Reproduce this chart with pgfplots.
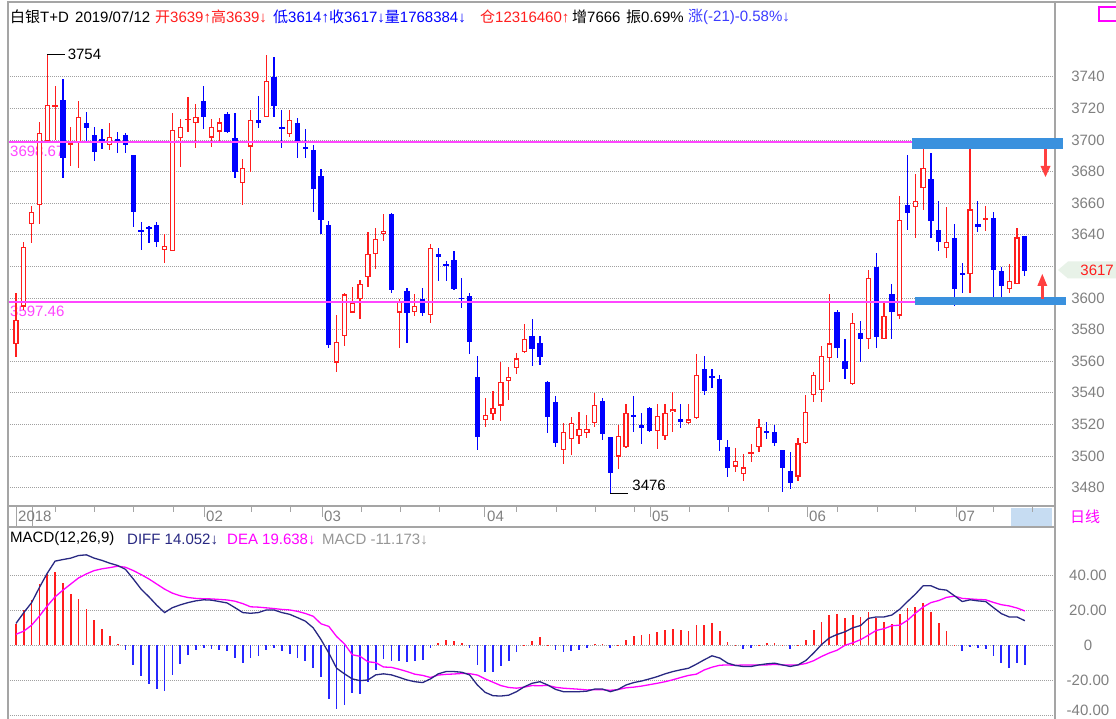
\documentclass[border=0pt]{standalone}
\usepackage{pgfplots}
\pgfplotsset{compat=1.18}
\usepackage{pgfplotstable}
\usepackage{fontspec}
\setmainfont{Liberation Sans}
\newfontfamily\cjk{Noto Sans CJK SC}
\definecolor{cred}{RGB}{255,30,30}
\definecolor{cblue}{RGB}{0,0,255}
\definecolor{navy}{RGB}{40,40,130}
\definecolor{mag}{RGB}{255,0,255}
\definecolor{magl}{RGB}{255,70,255}
\definecolor{gridc}{RGB}{160,160,160}
\definecolor{lab}{RGB}{128,128,128}
\definecolor{framec}{RGB}{165,165,165}
\definecolor{barblue}{RGB}{58,145,222}
\definecolor{tagc}{RGB}{232,242,232}
\definecolor{hblue}{RGB}{60,60,255}
\definecolor{mgray}{RGB}{150,150,150}
\definecolor{stripblue}{RGB}{198,220,242}
\newcommand\fs{\fontsize{15}{18}\selectfont}

\pgfplotstableread{
i o h l c
0 3570.9 3603.4 3562.5 3586.0
1 3594.5 3635.6 3592.4 3632.1
2 3646.8 3658.4 3634.6 3654.6
3 3658.9 3711.2 3646.6 3704.6
4 3699.4 3754.0 3699.0 3722.3
5 3720.9 3734.2 3700.0 3722.3
7 3697.2 3708.4 3683.5 3698.0
8 3698.3 3724.7 3682.1 3714.4
12 3696.8 3710.6 3693.7 3702.1
19 3630.4 3640.3 3622.0 3633.1
20 3629.9 3716.9 3629.5 3706.3
21 3701.1 3713.1 3682.7 3708.4
22 3712.7 3727.4 3705.3 3713.3
23 3710.9 3722.8 3694.7 3714.7
25 3701.5 3713.1 3695.8 3708.4
26 3705.3 3714.1 3699.0 3711.2
29 3672.6 3687.8 3658.9 3682.1
30 3695.8 3719.0 3679.6 3712.7
32 3714.7 3753.8 3714.5 3737.5
35 3703.6 3719.0 3701.7 3712.7
41 3559.1 3589.2 3553.4 3572.0
42 3575.9 3603.0 3569.6 3602.3
43 3590.7 3607.2 3590.5 3597.0
44 3599.2 3611.4 3586.5 3609.1
45 3613.1 3642.0 3606.8 3627.8
46 3627.8 3644.5 3618.2 3637.3
47 3640.5 3653.2 3636.3 3642.6
49 3590.7 3599.2 3568.2 3598.3
51 3591.3 3602.3 3588.6 3594.9
53 3589.2 3634.0 3584.0 3631.5
60 3522.8 3536.9 3518.6 3525.9
61 3526.6 3541.1 3522.8 3530.2
62 3531.9 3559.7 3522.3 3547.1
63 3547.5 3556.5 3535.4 3550.2
64 3555.5 3565.4 3551.9 3561.8
65 3565.6 3583.5 3565.0 3573.9
70 3503.8 3521.1 3494.7 3515.0
71 3510.6 3524.9 3500.6 3521.1
72 3512.7 3528.1 3507.6 3517.1
73 3514.4 3525.9 3511.2 3517.3
74 3520.7 3540.1 3518.6 3532.1
77 3499.6 3519.6 3491.6 3512.9
78 3505.5 3532.9 3505.0 3527.4
82 3515.8 3532.9 3504.2 3525.3
83 3512.4 3532.9 3510.1 3527.4
84 3527.8 3540.5 3515.4 3529.5
86 3520.7 3532.9 3520.3 3523.2
87 3523.9 3564.4 3523.2 3551.1
92 3493.3 3505.3 3489.6 3497.1
93 3488.6 3501.1 3484.4 3492.8
94 3501.1 3507.4 3496.4 3502.5
95 3505.5 3523.4 3502.7 3518.2
100 3487.0 3511.2 3484.4 3508.0
101 3508.0 3538.6 3507.8 3528.1
102 3538.6 3553.4 3534.4 3551.3
103 3541.8 3569.6 3534.4 3563.3
104 3561.8 3602.5 3547.0 3571.3
107 3545.4 3590.3 3545.0 3584.0
109 3573.9 3617.7 3567.5 3612.5
111 3574.0 3597.7 3573.8 3588.8
113 3588.8 3664.6 3586.7 3649.4
115 3657.4 3678.3 3637.8 3661.4
116 3669.4 3694.1 3655.7 3682.1
119 3631.8 3657.4 3625.5 3635.6
122 3615.2 3694.1 3603.0 3656.1
124 3649.7 3658.2 3642.6 3650.2
127 3605.7 3621.5 3603.0 3611.0
128 3608.9 3644.5 3608.9 3638.4
}\up

\pgfplotstableread{
i o h l c
6 3725.3 3738.4 3676.1 3688.8
9 3710.6 3717.5 3698.3 3707.4
10 3703.2 3708.4 3686.7 3692.6
11 3700.6 3706.8 3694.1 3699.4
13 3700.3 3705.3 3692.0 3699.6
14 3703.2 3704.2 3692.0 3696.8
15 3690.3 3690.5 3645.1 3654.6
16 3643.0 3648.3 3630.4 3642.2
17 3644.9 3645.5 3634.6 3643.5
18 3646.2 3648.3 3632.5 3635.6
24 3724.7 3734.2 3706.8 3714.7
27 3716.5 3717.5 3704.2 3705.3
28 3701.1 3716.9 3676.1 3679.6
31 3712.7 3728.0 3707.4 3710.6
33 3739.7 3752.3 3714.7 3721.5
34 3708.4 3719.0 3694.7 3707.4
36 3710.6 3713.7 3688.4 3697.9
37 3695.8 3706.8 3688.4 3694.7
38 3693.7 3696.8 3654.6 3668.8
39 3677.4 3681.5 3640.5 3649.4
40 3646.2 3648.9 3568.2 3570.3
48 3653.2 3653.5 3603.4 3605.1
50 3604.4 3606.5 3571.3 3590.7
52 3599.2 3606.5 3588.6 3590.7
54 3627.8 3631.5 3611.0 3625.8
55 3621.3 3623.4 3611.0 3620.3
56 3624.0 3629.7 3605.1 3605.5
57 3600.2 3612.5 3593.5 3599.2
58 3601.3 3603.0 3564.6 3572.3
59 3550.2 3563.3 3503.8 3511.8
66 3576.1 3586.5 3557.0 3567.7
67 3571.3 3576.0 3557.6 3562.5
68 3547.1 3547.5 3514.4 3524.5
69 3534.4 3538.0 3505.5 3508.0
75 3534.8 3536.9 3510.1 3513.7
76 3511.8 3512.0 3476.0 3489.0
79 3525.8 3538.0 3515.4 3525.3
80 3519.4 3527.4 3507.6 3517.5
81 3530.2 3530.8 3515.4 3516.0
85 3523.4 3532.9 3517.5 3521.7
88 3555.1 3563.3 3538.6 3541.3
89 3550.5 3555.1 3543.2 3549.9
90 3548.5 3551.3 3503.4 3510.1
91 3505.9 3510.1 3486.9 3492.6
96 3515.8 3521.3 3510.6 3514.4
97 3515.4 3519.6 3506.3 3508.0
98 3503.8 3504.0 3476.9 3492.6
99 3490.5 3502.7 3478.9 3483.1
105 3590.9 3592.4 3561.8 3568.2
106 3560.1 3574.0 3548.5 3554.9
108 3577.7 3585.4 3559.7 3573.9
110 3619.8 3628.3 3568.2 3575.5
112 3602.5 3608.7 3573.9 3591.3
114 3658.9 3690.5 3643.0 3653.6
117 3675.3 3691.6 3637.8 3648.7
118 3643.0 3661.4 3629.7 3635.6
120 3637.8 3646.8 3594.9 3605.5
121 3615.5 3622.0 3603.4 3615.0
123 3646.8 3661.4 3642.0 3644.7
125 3650.4 3654.6 3600.8 3617.7
126 3617.1 3619.8 3600.8 3607.8
129 3639.0 3639.0 3614.0 3617.0
}\down

\pgfplotstableread{
i diff dea m
0 12.5 6.3 12.3
1 18.7 8.1 20.0
2 24.4 11.5 25.8
3 33.1 16.7 35.0
4 41.2 22.5 40.8
5 48.1 27.7 41.7
6 49.0 31.5 35.4
7 49.8 35.0 29.6
8 51.3 38.5 26.7
9 51.7 40.8 21.0
10 49.8 42.7 14.4
11 48.5 43.7 9.4
12 46.9 44.4 5.2
13 45.6 45.2 0.8
14 43.4 44.6 -2.5
15 37.9 42.7 -11.2
16 32.1 40.4 -17.5
17 27.7 37.9 -21.9
18 22.9 35.0 -25.2
19 18.7 32.1 -26.2
20 21.5 29.8 -16.9
21 23.1 28.3 -10.8
22 24.4 27.3 -5.8
23 25.4 26.8 -2.9
24 26.0 26.6 -1.5
25 25.8 26.5 -1.9
26 25.0 26.2 -2.5
27 24.2 25.9 -3.5
28 21.5 25.2 -7.3
29 18.7 23.8 -10.2
30 18.3 22.0 -7.3
31 18.7 21.8 -6.3
32 20.2 21.4 -2.5
33 20.2 21.0 -1.5
34 18.7 20.5 -3.5
35 17.7 20.2 -5.0
36 15.8 19.4 -7.3
37 13.8 18.2 -8.8
38 10.0 16.6 -13.1
39 3.3 12.3 -17.9
40 -4.4 10.8 -30.4
41 -13.1 5.0 -36.2
42 -16.3 0.8 -34.2
43 -19.2 -5.4 -27.5
44 -20.2 -6.3 -27.9
45 -19.8 -9.4 -20.8
46 -16.9 -9.9 -14.0
47 -16.3 -12.4 -7.7
48 -16.9 -12.6 -8.7
49 -18.3 -13.7 -9.2
50 -19.8 -15.0 -9.6
51 -20.8 -16.5 -8.7
52 -21.3 -17.2 -8.3
53 -19.2 -18.4 -1.5
54 -16.3 -17.0 1.3
55 -15.0 -16.6 3.3
56 -15.0 -16.4 2.7
57 -15.4 -16.1 1.3
58 -16.9 -16.2 -1.5
59 -22.7 -17.0 -11.5
60 -26.9 -19.2 -15.4
61 -28.8 -21.1 -15.4
62 -29.0 -23.0 -12.1
63 -28.5 -24.1 -8.8
64 -26.5 -24.5 -4.0
65 -23.7 -23.9 0.4
66 -21.7 -23.0 2.7
67 -20.8 -23.1 4.6
68 -22.7 -22.9 0.4
69 -25.2 -24.0 -2.5
70 -26.5 -24.5 -4.0
71 -26.5 -24.8 -3.5
72 -26.5 -25.1 -2.9
73 -26.2 -25.5 -1.5
74 -25.0 -25.4 0.8
75 -25.0 -25.4 0.8
76 -26.5 -25.7 -1.5
77 -25.2 -25.3 0.2
78 -22.7 -24.3 3.1
79 -21.3 -23.9 5.2
80 -20.4 -23.3 5.8
81 -19.2 -22.5 6.5
82 -17.9 -21.7 7.7
83 -16.3 -20.8 9.0
84 -15.0 -19.7 9.4
85 -14.0 -18.4 8.7
86 -13.1 -17.2 8.1
87 -10.8 -16.5 11.5
88 -8.3 -14.1 11.5
89 -6.0 -12.5 12.9
90 -7.3 -11.4 8.1
91 -10.2 -11.2 1.9
92 -11.5 -11.5 0.1
93 -12.1 -11.2 -1.9
94 -12.1 -11.3 -1.5
95 -11.2 -11.2 0.1
96 -10.6 -11.2 1.3
97 -10.2 -10.9 1.3
98 -11.2 -11.2 0.1
99 -12.1 -11.2 -1.9
100 -11.2 -11.2 0.1
101 -8.7 -10.4 3.3
102 -4.4 -8.8 8.8
103 0.4 -6.4 13.5
104 4.2 -4.4 17.3
105 6.2 -2.8 18.1
106 7.7 0.0 15.4
107 10.0 1.4 17.3
108 11.3 3.2 16.2
109 15.4 5.8 19.2
110 16.2 8.5 15.4
111 16.2 9.5 13.5
112 17.3 11.2 12.3
113 20.6 11.5 18.1
114 25.0 14.3 21.5
115 29.2 18.3 21.9
116 34.0 21.9 24.2
117 34.0 24.4 19.2
118 32.1 25.6 12.9
119 31.5 27.4 8.1
120 28.3 28.1 0.4
121 25.0 26.8 -3.5
122 26.0 26.5 -1.0
123 25.4 26.2 -1.5
124 25.0 26.0 -1.9
125 21.5 24.5 -6.0
126 18.1 23.2 -10.2
127 16.2 22.5 -12.7
128 16.2 21.3 -10.2
129 14.052 19.638 -11.173
}\macd

\pgfplotsset{candle/.style 2 args={draw=none, mark=none, forget plot,
  error bars/.cd, y dir=both, y explicit, error mark=none,
  error bar style={draw=#1, line width=#2, solid}}}

\begin{document}
\begin{tikzpicture}[x=1pt,y=1pt]
\useasboundingbox (0,0) rectangle (1116,719);
\fill[white] (0,0) rectangle (1116,719);
% level labels (behind candles)
\node[anchor=west, inner sep=0, text=magl, font=\fs] at (10,568) {3698.67};
\node[anchor=west, inner sep=0, text=magl, font=\fs] at (10,408) {3597.46};

% ---------- main candlestick panel ----------
\begin{axis}[
  at={(8pt,213pt)}, anchor=south west, scale only axis,
  width=1047pt, height=504pt,
  xmin=-1.023, xmax=132.86, ymin=3468.35, ymax=3787.34,
  axis line style={draw=none}, xtick=\empty,
  ytick={3480,3500,3520,3540,3560,3580,3600,3620,3640,3660,3680,3700,3720,3740},
  yticklabels={3480,3500,3520,3540,3560,3580,3600,{},3640,3660,3680,3700,3720,3740},
  yticklabel pos=right, major tick length=0pt,
  yticklabel style={anchor=center, xshift=33pt, text=lab, font=\fs},
  ymajorgrids, major grid style={gridc, dash pattern=on 1pt off 1pt, line width=0.9pt},
]
% up candles: wick, body, hollow interior
\addplot[candle={cred}{1.2pt}]
  table[x=i, y expr={(\thisrow{h}+\thisrow{l})/2}, y error expr={(\thisrow{h}-\thisrow{l})/2}] {\up};
\addplot[candle={cred}{5.3pt}]
  table[x=i, y expr={(\thisrow{o}+\thisrow{c})/2}, y error expr={max(abs(\thisrow{c}-\thisrow{o})/2,0.4)}] {\up};
\addplot[candle={white}{2.9pt}]
  table[x=i, y expr={(\thisrow{o}+\thisrow{c})/2}, y error expr={max(abs(\thisrow{c}-\thisrow{o})/2-0.76,0)}] {\up};
% down candles: wick, filled body
\addplot[candle={cblue}{1.2pt}]
  table[x=i, y expr={(\thisrow{h}+\thisrow{l})/2}, y error expr={(\thisrow{h}-\thisrow{l})/2}] {\down};
\addplot[candle={cblue}{5.3pt}]
  table[x=i, y expr={(\thisrow{o}+\thisrow{c})/2}, y error expr={max(abs(\thisrow{c}-\thisrow{o})/2,0.4)}] {\down};
% level lines
\addplot[magl, line width=1.8pt, mark=none] coordinates {(-1.023,3698.67) (114.6,3698.67)};
\addplot[magl, line width=1.8pt, mark=none] coordinates {(-1.023,3597.46) (115.0,3597.46)};
% extreme annotations
\draw[black, line width=0.9pt] (axis cs:4,3754) -- (axis cs:6.27,3754);
\node[anchor=west, inner sep=0, font=\fs] at (axis cs:6.6,3754) {3754};
\draw[black, line width=0.9pt] (axis cs:76,3476.3) -- (axis cs:78.3,3476.3);
\node[anchor=west, inner sep=0, font=\fs] at (axis cs:78.8,3481.5) {3476};
\end{axis}

% ---------- MACD panel ----------
\begin{axis}[
  at={(8pt,0pt)}, anchor=south west, scale only axis,
  width=1047pt, height=192pt,
  xmin=-1.023, xmax=132.86, ymin=-42.11, ymax=67.6,
  axis line style={draw=none}, xtick=\empty,
  ytick={-40,-20,0,20,40},
  yticklabels={{},-20.00,0,20.00,40.00},
  yticklabel pos=right, major tick length=0pt,
  yticklabel style={anchor=center, xshift=33pt, text=lab, font=\fs},
  ymajorgrids, major grid style={gridc, dash pattern=on 1pt off 1pt, line width=0.9pt},
]
\addplot[ycomb, draw=cred, line width=1.7pt, mark=none] table[x=i, y expr={max(\thisrow{m},0)}] {\macd};
\addplot[ycomb, draw=cblue!85!white, line width=1.7pt, mark=none] table[x=i, y expr={min(\thisrow{m},0)}] {\macd};
\addplot[mag, line width=1.3pt, mark=none] table[x=i, y=dea] {\macd};
\addplot[navy, line width=1.3pt, mark=none] table[x=i, y=diff] {\macd};
\end{axis}
\node[text=lab, font=\fs, inner sep=0] at (1088,9) {-40.00};

% ---------- frame ----------
\draw[framec, line width=1.3pt] (8,0) -- (8,717) -- (1116,717);
\draw[framec, line width=1.3pt] (1055,0) -- (1055,717);
\draw[framec, line width=1.3pt] (8,213) -- (1055,213);
\draw[framec, line width=1.3pt] (8,192) -- (1055,192);

% ---------- date strip ----------
\fill[stripblue] (1011,193) rectangle (1052,211);
\foreach \xx in {16,32} \draw[framec, line width=1pt] (\xx,213) -- (\xx,192);
\foreach \xx in {204,322,484,650,807,956} \draw[framec, line width=1pt] (\xx,213) -- (\xx,202);
\foreach \xx in {55,94,133,173,251,290,361,400,439,516,556,595,634,689,728,768,837,877,915,993,1032} \draw[framec, line width=1pt] (\xx,213) -- (\xx,207);
\node[anchor=west, inner sep=0, text=lab, font=\fs] at (18,203) {2018};
\node[anchor=west, inner sep=0, text=lab, font=\fs] at (206,203) {02};
\node[anchor=west, inner sep=0, text=lab, font=\fs] at (324,203) {03};
\node[anchor=west, inner sep=0, text=lab, font=\fs] at (487,203) {04};
\node[anchor=west, inner sep=0, text=lab, font=\fs] at (652,203) {05};
\node[anchor=west, inner sep=0, text=lab, font=\fs] at (809,203) {06};
\node[anchor=west, inner sep=0, text=lab, font=\fs] at (958,203) {07};
\node[inner sep=0, text=mag, font=\fs\cjk] at (1085,202) {日线};

% ---------- range boxes and arrows ----------
\fill[barblue] (912,570) rectangle (1063,580.7);
\fill[barblue] (915,413.7) rectangle (1066,421.7);
\fill[cred!85!white] (1044.3,570) rectangle (1046.7,552);
\fill[cred!85!white] (1040.5,553) -- (1050.5,553) -- (1045.5,542) -- cycle;
\fill[cred!85!white] (1041.1,420) rectangle (1043.5,434);
\fill[cred!85!white] (1037.3,433) -- (1047.3,433) -- (1042.3,445) -- cycle;

% last price tag
\fill[tagc] (1058,449) -- (1068,457.5) -- (1116,457.5) -- (1116,440.5) -- (1068,440.5) -- cycle;
\node[anchor=east, inner sep=0, text=cred, font=\fs] at (1114,449) {3617};

% top-right marker
\draw[mag, line width=1.2pt] (1116,712) -- (1099,712) -- (1099,698) -- (1116,698);

% ---------- header ----------
\node[anchor=west, inner sep=0, font=\fs] at (10,702) {{\cjk 白银}T+D};
\node[anchor=west, inner sep=0, font=\fs] at (75,702) {2019/07/12};
\node[anchor=west, inner sep=0, font=\fs, text=cred] at (155,702) {{\cjk 开}3639↑{\cjk 高}3639↓};
\node[anchor=west, inner sep=0, font=\fs, text=cblue] at (273,702) {{\cjk 低}3614↑{\cjk 收}3617↓{\cjk 量}1768384↓};
\node[anchor=west, inner sep=0, font=\fs, text=cred] at (480,702) {{\cjk 仓}12316460↑};
\node[anchor=west, inner sep=0, font=\fs] at (572,702) {{\cjk 增}7666};
\node[anchor=west, inner sep=0, font=\fs] at (626,702) {{\cjk 振}0.69\%};
\node[anchor=west, inner sep=0, font=\fs, text=hblue] at (688,702) {{\cjk 涨}(-21)-0.58\%↓};

% ---------- MACD legend ----------
\node[anchor=west, inner sep=0, font=\fs] at (10,180) {MACD(12,26,9)};
\node[anchor=west, inner sep=0, font=\fs, text=navy] at (127,180) {DIFF 14.052↓};
\node[anchor=west, inner sep=0, font=\fs, text=mag] at (227,180) {DEA 19.638↓};
\node[anchor=west, inner sep=0, font=\fs, text=mgray] at (322,180) {MACD -11.173↓};
\end{tikzpicture}
\end{document}
